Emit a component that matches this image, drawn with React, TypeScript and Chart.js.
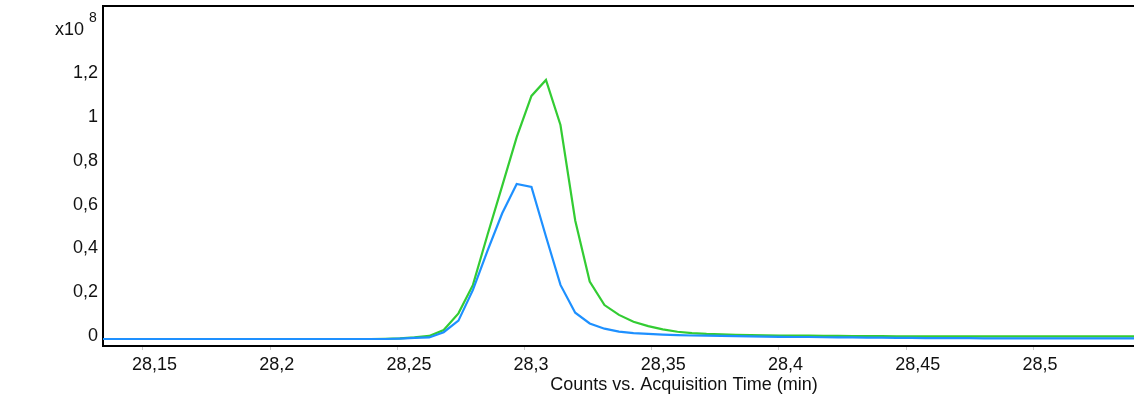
import React, { useEffect, useRef } from "react";
import { Chart, registerables } from "chart.js";

Chart.register(...registerables);

// Acquisition time (min)
const times: number[] = [
  28.1305, 28.1362, 28.1419, 28.1477, 28.1534, 28.1592, 28.1649, 28.1706, 28.1764, 28.1821,
  28.1879, 28.1936, 28.1993, 28.2051, 28.2108, 28.2166, 28.2223, 28.2280, 28.2338, 28.2395,
  28.2453, 28.2510, 28.2567, 28.2625, 28.2682, 28.2740, 28.2797, 28.2854, 28.2912, 28.2969,
  28.3027, 28.3084, 28.3141, 28.3199, 28.3256, 28.3314, 28.3371, 28.3428, 28.3486, 28.3543,
  28.3601, 28.3658, 28.3715, 28.3773, 28.3830, 28.3888, 28.3945, 28.4002, 28.4060, 28.4117,
  28.4175, 28.4232, 28.4289, 28.4347, 28.4404, 28.4462, 28.4519, 28.4576, 28.4634, 28.4691,
  28.4749, 28.4806, 28.4863, 28.4921, 28.4978, 28.5036, 28.5093, 28.5150, 28.5208, 28.5265,
  28.5323, 28.5380, 28.5437, 28.5495,
];

// Counts (x10^8), green trace
const greenCounts: number[] = [
  0, 0, 0, 0, 0, 0, 0, 0, 0, 0,
  0, 0, 0, 0, 0, 0, 0, 0, 0, 0,
  0.001, 0.003, 0.007, 0.014, 0.041, 0.117, 0.247, 0.475, 0.699, 0.922,
  1.110, 1.183, 0.977, 0.541, 0.262, 0.155, 0.110, 0.079, 0.059, 0.044,
  0.033, 0.027, 0.023, 0.021, 0.019, 0.018, 0.017, 0.016, 0.015, 0.015,
  0.014, 0.014, 0.013, 0.013, 0.013, 0.012, 0.012, 0.012, 0.012, 0.012,
  0.012, 0.012, 0.012, 0.012, 0.012, 0.012, 0.012, 0.012, 0.012, 0.012,
  0.012, 0.012, 0.012, 0.012,
];

// Counts (x10^8), blue trace
const blueCounts: number[] = [
  0, 0, 0, 0, 0, 0, 0, 0, 0, 0,
  0, 0, 0, 0, 0, 0, 0, 0, 0, 0,
  0, 0.002, 0.005, 0.007, 0.031, 0.084, 0.224, 0.402, 0.574, 0.708,
  0.694, 0.468, 0.247, 0.120, 0.071, 0.047, 0.034, 0.027, 0.023, 0.020,
  0.018, 0.016, 0.015, 0.014, 0.013, 0.012, 0.011, 0.010, 0.009, 0.009,
  0.008, 0.007, 0.007, 0.006, 0.006, 0.005, 0.005, 0.004, 0.004, 0.004,
  0.004, 0.003, 0.003, 0.003, 0.003, 0.003, 0.003, 0.003, 0.003, 0.003,
  0.003, 0.003, 0.003, 0.003,
];

const xTickValues: number[] = [28.15, 28.2, 28.25, 28.3, 28.35, 28.4, 28.45, 28.5, 28.55];
const yTickValues: number[] = [0, 0.2, 0.4, 0.6, 0.8, 1, 1.2];

const X_MIN = 28.13428;
const X_MAX = 28.59104;
const Y_MIN = -0.032;
const Y_MAX = 1.5205;

const xTitle = "Counts vs. Acquisition Time (min)";
const exponentBase = "x10";
const exponentPower = "8";

const FONT = "'Liberation Sans', Arial, Helvetica, sans-serif";

const fmt = (v: number, digits: number) =>
  String(Number(v.toFixed(digits))).replace(".", ",");

const exponentPlugin = {
  id: "exponentLabel",
  afterDraw(chart: any) {
    const ctx = chart.ctx;
    ctx.save();
    ctx.fillStyle = "#111";
    ctx.textAlign = "left";
    ctx.textBaseline = "middle";
    ctx.font = `18px ${FONT}`;
    ctx.fillText(exponentBase, 55, 30);
    ctx.font = `14px ${FONT}`;
    ctx.fillText(exponentPower, 89, 18);
    ctx.restore();
  },
};

const zeroPadding = (scale: any) => {
  scale.paddingTop = 0;
  scale.paddingBottom = 0;
  scale.paddingLeft = 0;
  scale.paddingRight = 0;
};

export default function App() {
  const canvasRef = useRef<HTMLCanvasElement | null>(null);

  useEffect(() => {
    document.body.style.margin = "0";
    const canvas = canvasRef.current;
    if (!canvas) return;
    const chart = new Chart(canvas, {
      type: "line",
      data: {
        datasets: [
          {
            label: "blue",
            data: times.map((t, i) => ({ x: t, y: blueCounts[i] })),
            borderColor: "#1e90ff",
            borderWidth: 2.2,
            pointRadius: 0,
            fill: false,
            tension: 0,
          },
          {
            label: "green",
            data: times.map((t, i) => ({ x: t, y: greenCounts[i] })),
            borderColor: "#33cc33",
            borderWidth: 2.2,
            pointRadius: 0,
            fill: false,
            tension: 0,
          },
        ],
      },
      options: {
        responsive: false,
        animation: false,
        events: [],
        layout: { padding: { left: 0, right: 35, top: 0, bottom: 0 } },
        plugins: {
          legend: { display: false },
          tooltip: { enabled: false },
          title: { display: false },
        },
        scales: {
          x: {
            type: "linear",
            position: "bottom",
            min: X_MIN,
            max: X_MAX,
            afterBuildTicks: (scale: any) => {
              scale.ticks = xTickValues.map((v) => ({ value: v }));
            },
            afterFit: (scale: any) => {
              scale.height = 60;
              zeroPadding(scale);
            },
            grid: {
              display: true,
              drawOnChartArea: false,
              drawTicks: true,
              tickLength: 4,
              color: "#c8c8c8",
            },
            border: { display: true, color: "#000", width: 2 },
            ticks: {
              autoSkip: false,
              maxRotation: 0,
              align: "start",
              labelOffset: -11,
              padding: 4,
              color: "#111",
              font: { family: FONT, size: 18 },
              callback: (v: any) => fmt(Number(v), 2),
            },
            title: {
              display: true,
              text: xTitle,
              color: "#111",
              font: { family: FONT, size: 18 },
              padding: { top: 0, bottom: 10 },
            },
          },
          xTop: {
            type: "linear",
            position: "top",
            min: X_MIN,
            max: X_MAX,
            afterFit: (scale: any) => {
              scale.height = 6;
              zeroPadding(scale);
            },
            grid: { display: false, drawTicks: false },
            border: { display: true, color: "#000", width: 2 },
            ticks: { display: false },
          },
          y: {
            type: "linear",
            min: Y_MIN,
            max: Y_MAX,
            afterBuildTicks: (scale: any) => {
              scale.ticks = yTickValues.map((v) => ({ value: v }));
            },
            afterFit: (scale: any) => {
              scale.width = 103;
              zeroPadding(scale);
            },
            grid: { display: false, drawTicks: false },
            border: { display: true, color: "#000", width: 2 },
            ticks: {
              autoSkip: false,
              padding: 5,
              labelOffset: -3,
              color: "#111",
              font: { family: FONT, size: 18 },
              callback: (v: any) => fmt(Number(v), 1),
            },
          },
        },
      },
      plugins: [exponentPlugin],
    } as any);
    return () => chart.destroy();
  }, []);

  return (
    <div
      style={{
        position: "absolute",
        left: 0,
        top: 0,
        width: 1134,
        height: 406,
        overflow: "hidden",
        background: "#fff",
      }}
    >
      <canvas ref={canvasRef} width={1300} height={406} style={{ display: "block" }} />
    </div>
  );
}
